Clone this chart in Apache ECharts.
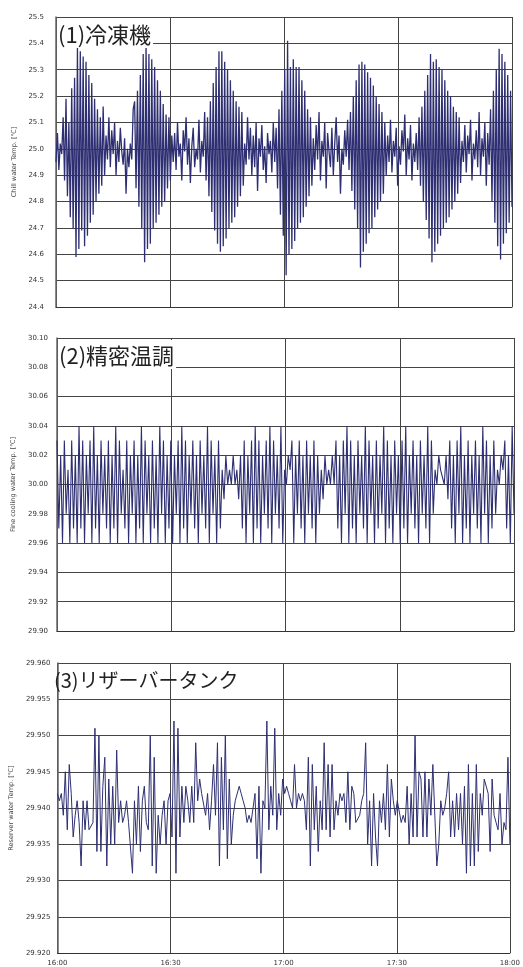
<!DOCTYPE html>
<html><head><meta charset="utf-8">
<script src="https://cdn.jsdelivr.net/npm/echarts@6/dist/echarts.min.js"></script>
<style>html,body{margin:0;padding:0;background:#fff}#c{width:523px;height:967px}</style>
</head><body><div id="c"></div>
<script>
const xTickLabels = ['16:00','16:30','17:00','17:30','18:00'];
const panelTitles = ['(1)冷凍機','(2)精密温調','(3)リザーバータンク'];
const axisNames = ['Chill water Temp. [℃]','Fine cooling water Temp. [℃]','Reserver water Temp. [℃]'];

const chillValues = [
24.95,25.06,24.92,25.02,
24.98,25.12,24.88,25.19,24.82,25.10,24.74,25.23,24.70,25.27,24.59,25.39,24.62,25.37,24.69,25.35,24.63,25.33,24.67,25.28,24.72,25.25,24.75,25.19,24.80,25.15,24.83,25.12,24.86,25.16,24.90,
25.05,24.96,25.12,24.93,25.07,24.98,25.10,24.90,25.03,24.95,25.08,24.99,24.94,25.04,24.83,25.00,24.93,25.02,24.96,25.15,
25.18,24.85,25.22,24.78,25.28,24.70,25.36,24.57,25.40,24.62,25.36,24.64,25.34,24.70,25.31,24.72,25.26,24.75,25.22,24.78,25.17,24.80,25.13,24.85,25.12,24.88,25.05,
24.95,25.06,24.92,25.10,24.97,25.02,24.88,25.07,24.99,25.12,24.94,25.04,24.87,25.01,25.08,24.93,25.00,24.96,25.11,24.91,25.03,24.97,25.14,24.88,
25.12,24.82,25.18,24.76,25.25,24.69,25.31,24.64,25.37,24.61,25.37,24.63,25.33,24.66,25.30,24.70,25.26,24.72,25.22,24.74,25.18,24.78,25.16,24.82,25.14,24.86,
25.02,24.94,25.12,24.96,25.08,24.90,25.05,24.93,25.10,24.84,25.04,24.97,25.09,24.92,25.01,24.87,25.06,24.98,25.03,24.91,25.10,24.95,25.08,
24.85,25.15,24.75,25.22,24.67,25.30,24.52,25.41,24.60,25.31,24.62,25.34,24.65,25.31,24.70,25.31,24.72,25.26,24.74,25.22,24.78,25.15,24.82,25.12,24.86,
25.04,24.92,25.09,24.96,25.14,24.88,25.03,24.97,25.10,24.85,25.06,24.99,24.93,25.08,24.90,25.02,25.12,24.95,25.05,24.83,25.00,24.94,25.07,24.97,25.11,24.92,
25.14,24.84,25.20,24.77,25.26,24.70,25.32,24.55,25.33,24.61,25.32,24.64,25.29,24.68,25.27,24.70,25.24,24.74,25.20,24.77,25.17,24.80,25.14,24.83,25.10,
24.90,25.05,24.95,25.11,24.91,25.03,24.97,25.08,24.86,25.01,24.94,25.07,24.99,25.13,24.90,25.04,24.96,25.09,24.88,25.02,24.95,25.06,24.92,25.12,
24.86,25.16,24.80,25.22,24.73,25.28,24.66,25.36,24.57,25.33,24.61,25.34,24.64,25.31,24.67,25.30,24.70,25.26,24.72,25.22,24.74,25.20,24.77,25.16,24.80,25.14,24.83,25.12,24.87,
25.03,24.95,25.09,24.91,25.05,24.98,25.11,24.88,25.02,24.96,25.07,24.93,25.14,24.90,25.04,24.97,25.10,24.86,25.06,24.94,
25.15,24.80,25.22,24.72,25.30,24.63,25.38,24.58,25.36,24.64,25.33,24.68,25.28,24.72,25.22,24.78
];

const fineValues = [
30.03,29.97,30.02,29.96,30.03,29.98,30.01,29.96,30.03,29.97,
30.02,29.96,30.04,29.97,30.03,29.96,30.02,29.98,30.03,29.96,
30.04,29.97,30.02,29.96,30.03,29.98,30.02,29.97,30.03,29.96,
30.02,29.97,30.04,29.96,30.03,29.98,30.01,29.97,30.03,29.96,
30.02,29.98,30.03,29.96,30.02,29.97,30.04,29.96,30.03,29.98,
30.02,29.96,30.03,29.97,30.02,29.96,30.04,29.98,30.03,29.96,
30.02,29.97,30.03,29.96,30.02,29.98,30.03,29.96,30.04,29.97,
30.03,29.96,30.02,29.98,30.03,29.97,30.02,29.96,30.03,29.98,
30.02,29.97,30.04,29.96,30.03,29.98,30.02,29.96,30.03,29.97,
30.01,29.99,30.02,30.00,30.01,30.00,30.02,30.00,30.01,29.99,
30.02,29.97,30.03,29.96,30.02,29.98,30.03,29.96,30.04,29.97,
30.03,29.96,30.02,29.98,30.03,29.97,30.04,29.96,30.03,29.98,
30.02,29.97,30.04,29.96,30.01,30.00,30.02,30.01,30.03,29.96,
30.02,29.98,30.03,29.97,30.02,29.96,30.03,29.98,30.02,29.97,
30.03,29.96,30.02,29.98,30.01,29.99,30.02,30.00,30.01,30.00,
30.02,30.00,30.03,29.97,30.02,29.96,30.03,29.98,30.04,29.96,
30.03,29.97,30.02,29.96,30.03,29.98,30.02,29.97,30.04,29.96,
30.03,29.98,30.02,29.96,30.03,29.97,30.02,29.98,30.04,29.96,
30.03,29.97,30.02,29.96,30.03,29.98,30.02,29.96,30.03,29.97,
30.04,29.96,30.02,29.98,30.03,29.97,30.02,29.96,30.03,29.98,
30.02,29.97,30.04,29.96,30.03,29.98,30.01,30.00,30.02,30.01,
30.01,30.00,30.02,29.99,30.03,29.97,30.02,29.96,30.03,29.98,
30.04,29.96,30.02,29.97,30.03,29.96,30.02,29.98,30.03,29.97,
30.02,29.96,30.04,29.98,30.03,29.96,30.02,29.97,30.03,29.98,
30.01,30.00,30.02,30.01,30.03,29.97,30.02,29.96,30.04,29.98
];

const reserveValues = [
29.942,29.941,29.942,29.939,29.945,29.937,29.946,29.942,29.936,29.939,29.941,29.938,29.932,29.941,29.937,29.941,29.937,29.937,29.938,29.951,29.934,29.950,29.934,29.943,29.947,29.932,29.944,29.935,29.943,29.935,29.948,29.938,29.941,29.938,29.939,29.941,29.938,29.938,29.931,29.941,29.935,29.943,29.934,29.941,29.943,29.938,29.937,29.950,29.932,29.947,29.931,29.939,29.935,29.939,29.941,29.935,29.941,
29.942,29.936,29.952,29.931,29.951,29.936,29.943,29.938,29.943,29.941,29.938,29.943,29.938,29.949,29.941,29.944,29.942,29.942,29.939,29.942,29.937,29.941,29.946,29.939,29.949,29.932,29.947,29.937,29.950,29.933,29.944,29.935,29.939,29.941,29.941,29.943,29.942,29.941,29.940,29.938,29.939,29.938,29.938,29.942,29.933,29.943,29.931,29.941,29.940,29.952,29.937,29.943,29.939,29.951,29.937,29.942,29.939,
29.944,29.942,29.943,29.942,29.941,29.940,29.946,29.940,29.942,29.941,29.942,29.941,29.937,29.947,29.932,29.946,29.937,29.943,29.934,29.941,29.937,29.949,29.937,29.946,29.936,29.946,29.937,29.941,29.939,29.942,29.941,29.942,29.938,29.945,29.937,29.943,29.942,29.938,29.938,29.939,29.941,29.942,29.949,29.935,29.941,29.932,29.942,29.936,29.932,29.941,29.938,29.942,29.937,29.946,29.936,29.944,29.941,29.939,29.941,
29.941,29.938,29.939,29.938,29.943,29.935,29.942,29.936,29.950,29.936,29.945,29.944,29.936,29.945,29.936,29.944,29.939,29.946,29.946,29.932,29.935,29.941,29.939,29.940,29.942,29.945,29.936,29.941,29.936,29.942,29.937,29.942,29.935,29.943,29.931,29.946,29.932,29.942,29.932,29.946,29.934,29.942,29.939,29.944,29.943,29.942,29.934,29.944,29.939,29.938,29.937,29.942,29.935,29.938,29.937,29.947,29.935
];

const yMins = [24.4, 29.90, 29.920];
const yMaxs = [25.5, 30.10, 29.960];
const yIntervals = [0.1, 0.02, 0.005];
const yDecimals = [1, 2, 3];

const grids = [
  {left:56, right:11, top:17, height:290},
  {left:57, right:9, top:338, height:293},
  {left:52, right:10, top:663, height:290}
];
const nameGaps = [34, 36, 38];
const titleSizes = [22, 22, 20];
const lineWidths = [1.3, 1.1, 1];
const seriesData = [chillValues, fineValues, reserveValues];

function toPairs(arr){ const n = arr.length; return arr.map((v,i)=>[i*120/(n-1), v]); }

const lineColor = '#2e2f72';
const gridColor = '#444';

const option = {
  animation:false,
  backgroundColor:'#fff',
  title: panelTitles.map((t,k)=>({
    text:t, left: grids[k].left+1, top: grids[k].top+2,
    padding:[3,2,1,1],
    backgroundColor: k<2 ? '#fff' : 'transparent',
    textStyle:{fontFamily:'Noto Sans CJK JP', fontSize:titleSizes[k], fontWeight:'normal', color:'#222', lineHeight:25}
  })),
  grid: grids,
  xAxis: grids.map((g,k)=>({
    type:'value', gridIndex:k, min:0, max:120, interval:30,
    axisLine:{show:true, lineStyle:{color:'#333', width:1}},
    axisTick:{show:false},
    axisLabel:{show:k===2, margin:7, fontSize:7, color:'#333', fontFamily:'DejaVu Sans',
      formatter:v=>xTickLabels[Math.round(v/30)]},
    splitLine:{show:true, lineStyle:{color:gridColor, width:1}}
  })),
  yAxis: grids.map((g,k)=>({
    type:'value', gridIndex:k, min:yMins[k], max:yMaxs[k], interval:yIntervals[k],
    name: axisNames[k], nameLocation:'middle', nameGap:nameGaps[k], nameRotate:90,
    nameTextStyle:{fontSize:6.5, color:'#444', fontFamily:'DejaVu Sans'},
    axisLine:{show:true, lineStyle:{color:'#666', width:1.5}},
    axisTick:{show:false},
    axisLabel:{margin: k===2?7:(k===1?9:12), fontSize:7, color:'#333', fontFamily:'DejaVu Sans',
      formatter:v=>Number(v).toFixed(yDecimals[k])},
    splitLine:{show:true, lineStyle:{color:gridColor, width:1}}
  })),
  series: seriesData.map((d,k)=>({
    type:'line', xAxisIndex:k, yAxisIndex:k, data:toPairs(d),
    showSymbol:false, symbol:'none', sampling:null,
    lineStyle:{color:lineColor, width:lineWidths[k]}, z:3
  }))
};
const chart = echarts.init(document.getElementById('c'), null, {renderer:'canvas'});
chart.setOption(option);
</script></body></html>
